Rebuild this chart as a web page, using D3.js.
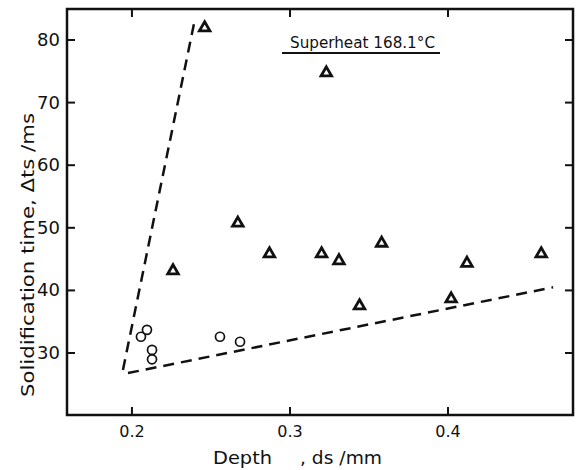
<!DOCTYPE html>
<html>
<head>
<meta charset="utf-8">
<script src="https://cdn.jsdelivr.net/npm/d3@7"></script>
<style>
  html, body { margin: 0; padding: 0; background: #fff; }
  text { font-family: "DejaVu Sans", sans-serif; fill: #111; }
</style>
</head>
<body>
<svg id="chart" width="581" height="470"></svg>
<script>
// triangles: superheat 168.1 C
const triDepth = [0.246, 0.323, 0.226, 0.267, 0.287, 0.320, 0.331, 0.358, 0.344, 0.402, 0.412, 0.459];
const triTime  = [82.1, 74.9, 43.3, 50.9, 46.0, 46.0, 44.9, 47.7, 37.7, 38.8, 44.5, 46.0];
// circles
const circDepth = [0.2057, 0.2095, 0.2127, 0.2127, 0.2557, 0.2684];
const circTime  = [32.6, 33.7, 30.5, 29.0, 32.6, 31.8];
// dashed boundary lines
const steepLine = [[0.1943, 27.3], [0.2399, 83.4]];
const lowLine   = [[0.1975, 26.8], [0.4665, 40.5]];

const xTicks = [0.2, 0.3, 0.4];
const yTicks = [30, 40, 50, 60, 70, 80];

const svg = d3.select("#chart");
const mLeft = 67, mRight = 573, mTop = 9, mBottom = 415;

const x = d3.scaleLinear().domain([0.1589, 0.4791]).range([mLeft, mRight]);
const y = d3.scaleLinear().domain([20.1, 84.95]).range([mBottom, mTop]);

const g = svg.append("g");

// frame
g.append("rect")
  .attr("x", mLeft).attr("y", mTop)
  .attr("width", mRight - mLeft).attr("height", mBottom - mTop)
  .attr("fill", "none").attr("stroke", "#111").attr("stroke-width", 2.5);

// ticks inward on all four sides
const tk = 8;
g.selectAll(".xb").data(xTicks).enter().append("line")
  .attr("x1", d => x(d)).attr("x2", d => x(d))
  .attr("y1", mBottom).attr("y2", mBottom - tk)
  .attr("stroke", "#111").attr("stroke-width", 2);
g.selectAll(".xt").data(xTicks).enter().append("line")
  .attr("x1", d => x(d)).attr("x2", d => x(d))
  .attr("y1", mTop).attr("y2", mTop + tk)
  .attr("stroke", "#111").attr("stroke-width", 2);
g.selectAll(".yl").data(yTicks).enter().append("line")
  .attr("x1", mLeft).attr("x2", mLeft + tk)
  .attr("y1", d => y(d)).attr("y2", d => y(d))
  .attr("stroke", "#111").attr("stroke-width", 2);
g.selectAll(".yr").data(yTicks).enter().append("line")
  .attr("x1", mRight).attr("x2", mRight - tk)
  .attr("y1", d => y(d)).attr("y2", d => y(d))
  .attr("stroke", "#111").attr("stroke-width", 2);

// tick labels
g.selectAll(".xlab").data(xTicks).enter().append("text")
  .attr("x", d => x(d)).attr("y", mBottom + 22)
  .attr("text-anchor", "middle").attr("font-size", 16)
  .text(d => d.toFixed(1));
g.selectAll(".ylab").data(yTicks).enter().append("text")
  .attr("x", mLeft - 7).attr("y", d => y(d) + 6)
  .attr("text-anchor", "end").attr("font-size", 18)
  .text(d => d);

// axis titles
g.append("text")
  .attr("x", 213).attr("y", 464)
  .attr("font-size", 18)
  .attr("textLength", 59).attr("lengthAdjust", "spacingAndGlyphs")
  .text("Depth");
g.append("text")
  .attr("x", 300).attr("y", 464)
  .attr("font-size", 18)
  .attr("textLength", 82).attr("lengthAdjust", "spacingAndGlyphs")
  .text(", ds /mm");
g.append("text")
  .attr("transform", "translate(34,255) rotate(-90)")
  .attr("text-anchor", "middle").attr("font-size", 18)
  .attr("textLength", 284).attr("lengthAdjust", "spacingAndGlyphs")
  .text("Solidification time, \u0394ts /ms");

// dashed lines
const line = d3.line().x(d => x(d[0])).y(d => y(d[1]));
[steepLine, lowLine].forEach(l => {
  g.append("path")
    .attr("d", line(l))
    .attr("fill", "none").attr("stroke", "#111")
    .attr("stroke-width", 2.5).attr("stroke-dasharray", "11,7");
});

// triangles
const tri = d3.symbol().type(d3.symbolTriangle).size(48);
g.selectAll(".tri").data(triDepth).enter().append("path")
  .attr("d", tri)
  .attr("transform", (d, i) => `translate(${x(d)},${y(triTime[i]) + 1})`)
  .attr("fill", "none").attr("stroke", "#111").attr("stroke-width", 2.8);

// circles
g.selectAll(".circ").data(circDepth).enter().append("circle")
  .attr("cx", d => x(d)).attr("cy", (d, i) => y(circTime[i]))
  .attr("r", 4.5)
  .attr("fill", "none").attr("stroke", "#111").attr("stroke-width", 1.7);

// legend label
g.append("text")
  .attr("x", 290).attr("y", 48)
  .attr("font-size", 15)
  .attr("textLength", 145).attr("lengthAdjust", "spacingAndGlyphs")
  .text("Superheat  168.1\u00b0C");
g.append("line")
  .attr("x1", 282).attr("x2", 440)
  .attr("y1", 53).attr("y2", 53)
  .attr("stroke", "#111").attr("stroke-width", 2);
</script>
</body>
</html>
